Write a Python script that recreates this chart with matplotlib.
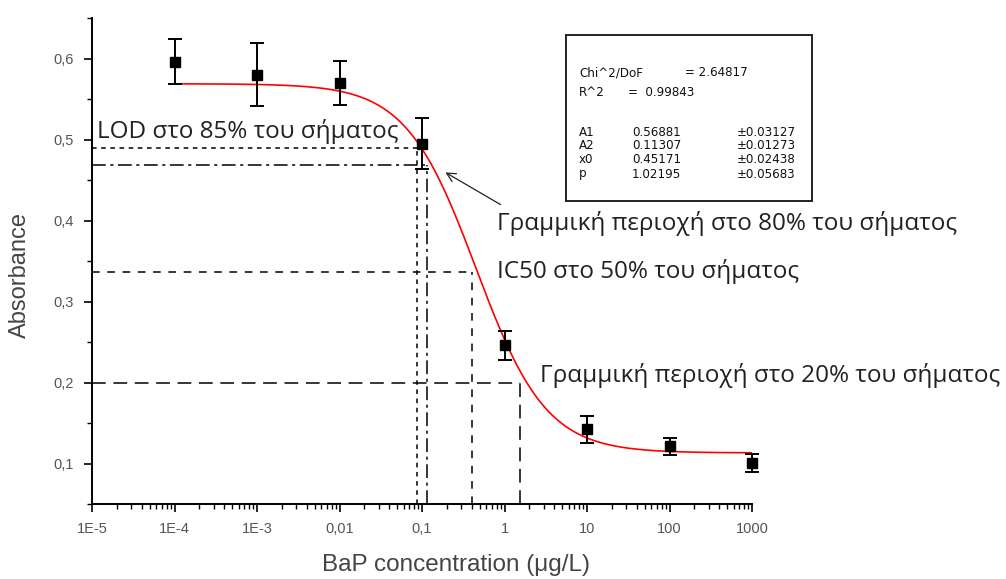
import numpy as np
import matplotlib
matplotlib.use("Agg")
import matplotlib.pyplot as plt
from matplotlib.ticker import FixedLocator, NullFormatter, LogLocator

# BaP calibration data (absorbance vs concentration)
conc = [1e-4, 1e-3, 1e-2, 1e-1, 1, 10, 100, 1000]
absorbance = [0.596, 0.580, 0.570, 0.495, 0.246, 0.142, 0.121, 0.101]
abs_err = [0.028, 0.039, 0.027, 0.031, 0.018, 0.017, 0.010, 0.011]

# logistic fit parameters
A1, A2, x0, p = 0.56881, 0.11307, 0.45171, 1.02195
chi2_dof = 2.64817
r2 = 0.99843
param_err = [0.03127, 0.01273, 0.02438, 0.05683]

# guide lines: signal level and the matching concentration
guide_y = [0.490, 0.469, 0.337, 0.200]
guide_x = [0.087, 0.115, 0.404, 1.54]
guide_styles = [(0, (3, 3)), (0, (9, 3, 2, 3)), (0, (5, 5)), (0, (9, 5))]

xtick_vals = [1e-5, 1e-4, 1e-3, 1e-2, 1e-1, 1, 10, 100, 1000]
xtick_labels = ["1E-5", "1E-4", "1E-3", "0,01", "0,1", "1", "10", "100", "1000"]
ytick_vals = [0.1, 0.2, 0.3, 0.4, 0.5, 0.6]
ytick_labels = ["0,1", "0,2", "0,3", "0,4", "0,5", "0,6"]

greek_font = ["Open Sans", "DejaVu Sans"]
plt.rcParams["font.family"] = ["Liberation Sans", "DejaVu Sans"]

fig = plt.figure(figsize=(10.06, 5.79), dpi=100)
ax = fig.add_axes([92 / 1006, 75 / 579, 660 / 1006, 486 / 579])

xmin, xmax = 1e-5, 1000
ax.set_xscale("log")
ax.set_xlim(xmin, xmax)
ax.set_ylim(0.05, 0.65)

# fitted curve
xs = np.logspace(-4, 3, 400)
ys = A2 + (A1 - A2) / (1 + (xs / x0) ** p)
ax.plot(xs, ys, color="red", lw=1.2, zorder=2)

# guide lines
for gy, gx, ls in zip(guide_y, guide_x, guide_styles):
    ax.plot([xmin, gx], [gy, gy], color="black", lw=1.1, ls=ls, zorder=1)
    ax.plot([gx, gx], [0.05, gy], color="black", lw=1.1, ls=ls, zorder=1)

eb = ax.errorbar(conc, absorbance, yerr=abs_err, fmt="s", color="black",
                 ms=7.5, capsize=5, elinewidth=1.4, capthick=1.4, zorder=3)
for artist in eb.lines[0:1] + eb.lines[1] + eb.lines[2]:
    artist.set_clip_on(False)

# axes styling
for s in ["top", "right"]:
    ax.spines[s].set_visible(False)
for s in ["left", "bottom"]:
    ax.spines[s].set_linewidth(1.4)

ax.xaxis.set_major_locator(FixedLocator(xtick_vals))
ax.set_xticklabels(xtick_labels)
ax.xaxis.set_minor_locator(LogLocator(base=10, subs=np.arange(2, 10)))
ax.xaxis.set_minor_formatter(NullFormatter())
ax.yaxis.set_major_locator(FixedLocator(ytick_vals))
ax.set_yticklabels(ytick_labels)
ax.yaxis.set_minor_locator(FixedLocator(np.arange(0.05, 0.66, 0.1)))
ax.tick_params(which="major", direction="out", length=6, width=1.2,
               labelsize=10.5, labelcolor="#555555", pad=7)
ax.tick_params(which="minor", direction="out", length=3.5, width=1.0)

ax.set_ylabel("Absorbance", fontsize=17, color="#444444", va="center")
ax.yaxis.set_label_coords(-0.109, 0.471)
ax.set_xlabel("BaP concentration (\u03bcg/L)", fontsize=17.5,
              color="#444444", va="center")
ax.xaxis.set_label_coords(0.5515, -0.1255)

# annotations
txt = dict(fontsize=17.5, color="#222222", family=greek_font, va="center")
fig.text(97 / 1006, 1 - 132 / 579, "LOD στο 85% του σήματος", **txt)
fig.text(497 / 1006, 1 - 224 / 579, "Γραμμική περιοχή στο 80% του σήματος", **txt)
fig.text(497 / 1006, 1 - 271 / 579, "IC50 στο 50% του σήματος", **txt)
fig.text(540 / 1006, 1 - 375 / 579, "Γραμμική περιοχή στο 20% του σήματος", **txt)

ax.annotate("", xy=(443 / 1006, 1 - 171 / 579), xycoords="figure fraction",
            xytext=(503 / 1006, 1 - 206 / 579), textcoords="figure fraction",
            arrowprops=dict(arrowstyle="->", color="#222222", lw=0.9,
                            mutation_scale=16))

# fit statistics box
box = plt.Rectangle((566 / 1006, 1 - 201 / 579), 246 / 1006, 166 / 579,
                    transform=fig.transFigure, fill=True, facecolor="white",
                    edgecolor="#222222", lw=1.4, zorder=5)
fig.patches.append(box)
st = dict(fontsize=8.6, color="#111111", va="center", zorder=6,
          family="DejaVu Sans")
fig.text(579 / 1006, 1 - 73 / 579, "Chi^2/DoF", **st)
fig.text(685 / 1006, 1 - 73 / 579, f"= {chi2_dof:.5f}", **st)
fig.text(579 / 1006, 1 - 92 / 579, "R^2", **st)
fig.text(628 / 1006, 1 - 92 / 579, f"=  {r2:.5f}", **st)
names = ["A1", "A2", "x0", "p"]
vals = [A1, A2, x0, p]
for i, (n, v, e) in enumerate(zip(names, vals, param_err)):
    yy = 1 - (132 + 14 * i) / 579
    fig.text(579 / 1006, yy, n, **st)
    fig.text(632 / 1006, yy, f"{v:.5f}", **st)
    fig.text(737 / 1006, yy, f"\u00b1{e:.5f}", **st)

fig.savefig("out.png", dpi=100)
